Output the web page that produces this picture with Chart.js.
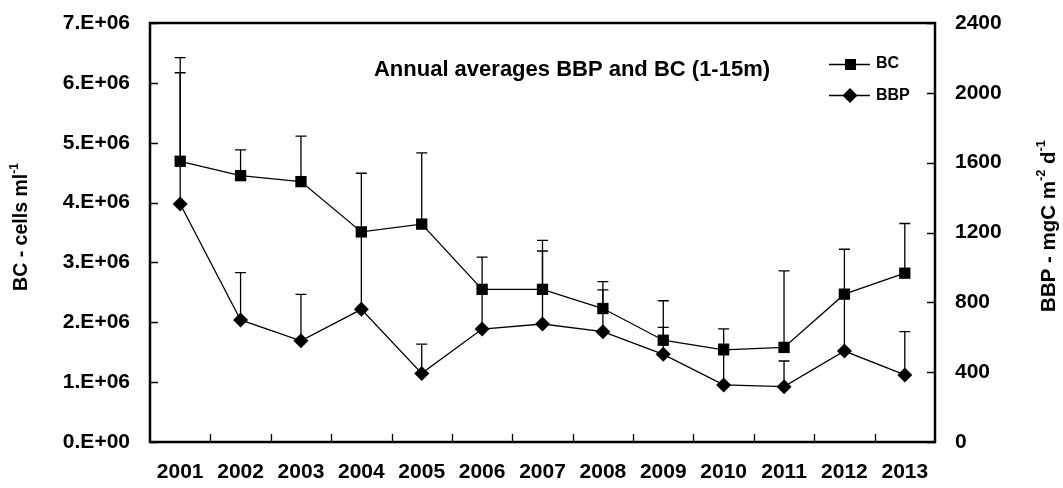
<!DOCTYPE html>
<html>
<head>
<meta charset="utf-8">
<script src="https://cdn.jsdelivr.net/npm/chart.js@4"></script>
<style>
  html, body { margin: 0; padding: 0; background: #fff; }
  #wrap { width: 1063px; height: 488px; }
</style>
</head>
<body>
<div id="wrap"><canvas id="bcChart" width="1063" height="488"></canvas></div>
<script>
// chart values
const years = ['2001', '2002', '2003', '2004', '2005', '2006', '2007', '2008', '2009', '2010', '2011', '2012', '2013'];
const bc = [4.69e6, 4.45e6, 4.35e6, 3.51e6, 3.64e6, 2.55e6, 2.55e6, 2.23e6, 1.70e6, 1.54e6, 1.58e6, 2.47e6, 2.82e6];
const bcSd = [1.73e6, 0.43e6, 0.76e6, 0.98e6, 1.19e6, 0.54e6, 0.82e6, 0.45e6, 0.66e6, 0.35e6, 1.28e6, 0.75e6, 0.83e6];
const bbp = [1363, 699, 580, 760, 393, 647, 676, 632, 502, 327, 317, 521, 384];
const bbpSd = [752, 271, 266, 460, 168, 233, 418, 239, 155, 234, 147, 329, 248];

const FONT = '"Liberation Sans", Arial, sans-serif';
Chart.defaults.color = '#000';
Chart.defaults.font.family = FONT;

// upward-only error bars, drawn under the markers
const errorBars = {
    id: 'errorBars',
    beforeDatasetsDraw(chart) {
        const ctx = chart.ctx;
        const x = chart.scales.x;
        const sets = [[bc, bcSd, chart.scales.y], [bbp, bbpSd, chart.scales.y1]];
        ctx.save();
        ctx.strokeStyle = '#000';
        ctx.lineWidth = 1.3;
        sets.forEach(([vals, sd, scale]) => {
            vals.forEach((v, i) => {
                const px = x.getPixelForValue(i);
                const y0 = scale.getPixelForValue(v);
                const y1 = scale.getPixelForValue(v + sd[i]);
                ctx.beginPath();
                ctx.moveTo(px, y0);
                ctx.lineTo(px, y1);
                ctx.moveTo(px - 5.5, y1);
                ctx.lineTo(px + 5.5, y1);
                ctx.stroke();
            });
        });
        ctx.restore();
    }
};

function supText(ctx, parts, size) {
    // parts: [text, isSup]
    let w = 0;
    parts.forEach(([t, sup]) => {
        ctx.font = 'bold ' + (sup ? size * 0.62 : size) + 'px ' + FONT;
        w += ctx.measureText(t).width;
    });
    let cx = -w / 2;
    parts.forEach(([t, sup]) => {
        ctx.font = 'bold ' + (sup ? size * 0.62 : size) + 'px ' + FONT;
        ctx.fillText(t, cx, sup ? -size * 0.38 : 0);
        cx += ctx.measureText(t).width;
    });
}

const frame = {
    id: 'frame',
    afterDraw(chart) {
        const ctx = chart.ctx;
        const a = chart.chartArea;
        const x = chart.scales.x, y = chart.scales.y, y1 = chart.scales.y1;
        ctx.save();
        ctx.strokeStyle = '#000';
        ctx.fillStyle = '#000';

        // inner tick marks
        ctx.lineWidth = 1.3;
        ctx.beginPath();
        for (let i = 0; i < years.length - 1; i++) {
            const px = Math.round((x.getPixelForValue(i) + x.getPixelForValue(i + 1)) / 2) + 0.5;
            ctx.moveTo(px, a.bottom);
            ctx.lineTo(px, a.bottom - 8);
        }
        y.ticks.forEach(t => {
            const py = Math.round(y.getPixelForValue(t.value)) + 0.5;
            ctx.moveTo(a.left, py);
            ctx.lineTo(a.left + 8, py);
        });
        y1.ticks.forEach(t => {
            const py = Math.round(y1.getPixelForValue(t.value)) + 0.5;
            ctx.moveTo(a.right, py);
            ctx.lineTo(a.right - 8, py);
        });
        ctx.stroke();

        // box
        ctx.lineWidth = 2.5;
        ctx.strokeRect(a.left, a.top, a.right - a.left, a.bottom - a.top);

        // title inside the plot
        ctx.font = 'bold 22px ' + FONT;
        ctx.textAlign = 'center';
        ctx.textBaseline = 'middle';
        ctx.fillText('Annual averages BBP and BC (1-15m)', 572, 70);

        // legend
        ctx.lineWidth = 1.3;
        ctx.beginPath();
        ctx.moveTo(829, 64.5); ctx.lineTo(870, 64.5);
        ctx.moveTo(829, 95.5); ctx.lineTo(870, 95.5);
        ctx.stroke();
        ctx.fillRect(845, 59, 11, 11);
        ctx.beginPath();
        ctx.moveTo(850, 88); ctx.lineTo(857.5, 95.5); ctx.lineTo(850, 103); ctx.lineTo(842.5, 95.5);
        ctx.closePath();
        ctx.fill();
        ctx.font = 'bold 16px ' + FONT;
        ctx.textAlign = 'left';
        ctx.fillText('BC', 876, 64);
        ctx.fillText('BBP', 876, 96);

        // axis titles
        ctx.textAlign = 'left';
        ctx.textBaseline = 'middle';
        ctx.save();
        ctx.translate(22, 227);
        ctx.rotate(-Math.PI / 2);
        supText(ctx, [['BC - cells ml', false], ['-1', true]], 19.5);
        ctx.restore();
        ctx.save();
        ctx.translate(1049, 226);
        ctx.rotate(-Math.PI / 2);
        supText(ctx, [['BBP - mgC m', false], ['-2', true], [' d', false], ['-1', true]], 20.5);
        ctx.restore();

        ctx.restore();
    }
};

const tickFont = { size: 21, weight: 'bold', family: FONT };

function fixY(width) {
    return s => {
        s.width = width;
        s.paddingTop = 0;
        s.paddingBottom = 0;
    };
}

new Chart(document.getElementById('bcChart'), {
    type: 'line',
    data: {
        labels: years,
        datasets: [{
            label: 'BC',
            data: bc,
            yAxisID: 'y',
            borderColor: '#000',
            backgroundColor: '#000',
            borderWidth: 1.3,
            pointStyle: 'rect',
            pointRadius: 8,
            pointBorderWidth: 0,
            tension: 0
        }, {
            label: 'BBP',
            data: bbp,
            yAxisID: 'y1',
            borderColor: '#000',
            backgroundColor: '#000',
            borderWidth: 1.3,
            pointStyle: 'rectRot',
            pointRadius: 7.5,
            pointBorderWidth: 0,
            tension: 0
        }]
    },
    options: {
        responsive: false,
        animation: false,
        layout: { padding: { top: 23, left: 0, right: 0, bottom: 0 } },
        plugins: {
            legend: { display: false },
            tooltip: { enabled: false }
        },
        scales: {
            x: {
                offset: true,
                grid: { display: false, drawTicks: false },
                border: { display: false },
                ticks: { font: tickFont, padding: 18, maxRotation: 0, autoSkip: false },
                afterFit: s => { s.height = 46; s.paddingLeft = 0; s.paddingRight = 0; }
            },
            y: {
                position: 'left',
                min: 0,
                max: 7e6,
                grid: { display: false, drawTicks: false },
                border: { display: false },
                ticks: {
                    stepSize: 1e6,
                    font: tickFont,
                    padding: 20,
                    callback: v => (v === 0 ? '0.E+00' : (v / 1e6) + '.E+06')
                },
                afterFit: fixY(150)
            },
            y1: {
                position: 'right',
                min: 0,
                max: 2400,
                grid: { display: false, drawTicks: false },
                border: { display: false },
                ticks: { stepSize: 400, font: tickFont, padding: 20, callback: v => String(v) },
                afterFit: fixY(128)
            }
        }
    },
    plugins: [errorBars, frame]
});
</script>
</body>
</html>
